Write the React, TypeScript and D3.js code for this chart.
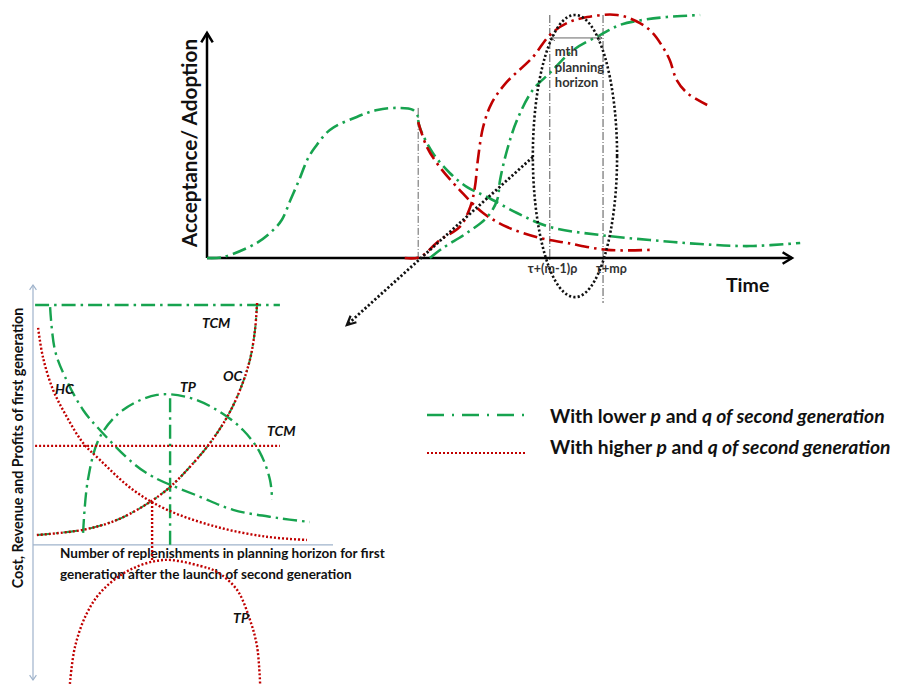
import React from "react";
import * as d3 from "d3";

type P = [number, number];

// ---------- Top chart: adoption over time (time units, adoption units) ----------
const firstGenRise: P[] = [
  [0, 0], [2.7, 0.4], [8.5, 6.7], [11.3, 12.4], [12.8, 17], [14.3, 26], [15.8, 35],
  [17.2, 44], [18.5, 49.3], [21, 56.9], [25.6, 62.7], [29.1, 65.8], [32.5, 66.7],
  [35.2, 65.8], [36.1, 62.7],
];
const firstGenDeclineLow: P[] = [
  [36.1, 61.3], [36.4, 57.8], [38.6, 46.7], [41.5, 37.8], [44.4, 31.6], [47.9, 27.1],
  [53, 20], [58.6, 13.8], [67.2, 10.2], [75.7, 8], [84.3, 6.2], [92.8, 5.3], [101.4, 6.7],
];
const firstGenDeclineHigh: P[] = [
  [36.1, 60.4], [37.6, 49.3], [39.8, 40.4], [43.2, 30.2], [47.2, 20], [51.3, 13.8],
  [56.9, 8.9], [61.5, 6.7], [68.4, 3.6], [75.7, 3.6],
];
const secondGenHigh: P[] = [
  [33.8, 0], [36.4, 0.4], [39.8, 8], [43.2, 13.8], [45, 22.7], [45.8, 31.6], [46.3, 43.6],
  [47.2, 58.2], [48.6, 68.5], [51, 77.5], [55.7, 89.3], [58.6, 99.1], [61.5, 104.4],
  [65, 107.1], [70.1, 108], [74, 104.4], [76.2, 100], [77.9, 93.8], [79.1, 88],
  [80.3, 79.1], [82.1, 73.3], [85.5, 68],
];
const secondGenLow: P[] = [
  [38.1, 0], [40.3, 4.4], [44.4, 11.1], [47.9, 18.2], [49.6, 25.8], [50.1, 34.7],
  [51.3, 48], [53, 61.3], [55.7, 74.7], [58.6, 82.2], [62.6, 92.4], [67.2, 99.1],
  [70.6, 103.6], [74.5, 105.8], [78.6, 107.1], [84.3, 108],
];
const tauTime = 36.1;
const horizonStart = 58.6;
const horizonEnd = 67.7;
const horizonLabels = ["τ+(m-1)ρ", "τ+mρ"];
const horizonNote = ["mth", "planning", "horizon"];
const ellipseCenter: P = [62.9, 45.3];
const ellipseRadii: P = [7.2, 62.7];
const pointerFrom: P = [55.7, 44.9];
const pointerTo: P = [23.9, -29.8];

// ---------- Bottom chart: cost / profit vs number of replenishments ----------
const tcmLow: P[] = [[0.7, 92.3], [82.3, 92.3]];
const tcmHigh: P[] = [[0.7, 38.1], [82.3, 38.1]];
const ocCurve: P[] = [
  [1.3, 3.8], [16.7, 5.8], [28, 9.6], [39, 16.5], [45.7, 22.3], [52.3, 30], [59, 39.2],
  [64.7, 49.2], [69, 59.6], [72.3, 71.2], [74, 82.7], [74.7, 93.1],
];
const hcLow: P[] = [
  [5.7, 91.5], [7.3, 75], [10.7, 64.6], [16.7, 51.9], [22.3, 44.2], [33.3, 31.5],
  [40, 26.2], [55.7, 18.5], [66.7, 13.5], [81.3, 10.4], [92.3, 8.8],
];
const hcHigh: P[] = [
  [1.7, 83.5], [3.3, 72.3], [6.7, 59.6], [11.3, 49.2], [16.7, 39.2], [22.3, 32.7],
  [33.3, 21.2], [44.7, 13.5], [61.3, 6.9], [78, 3.1], [91.3, 1.9],
];
const tpLow: P[] = [
  [16.7, 4.6], [18.3, 25], [22.3, 41.5], [30, 51.9], [41.3, 57.7], [51.3, 56.9],
  [61.3, 51.9], [70, 44.2], [75.7, 35.4], [79, 25], [79.7, 17.3],
];
const tpHigh: P[] = [
  [12.3, -53.5], [14, -39.2], [18, -26.2], [23.3, -17.3], [32.3, -9.6], [43.7, -5.8],
  [55.7, -8.1], [61.3, -10.4], [68, -17.3], [72.3, -28.8], [74.7, -39.2], [75.7, -53.5],
];
const optimumLow: P[] = [[45.7, 0], [45.7, 57.7]];
const optimumHigh: P[] = [[39.7, 16.5], [39.7, -6.5]];
const curveLabels: { text: string; at: P }[] = [
  { text: "TCM", at: [56.3, 83.5] },
  { text: "OC", at: [63.3, 63.1] },
  { text: "HC", at: [7.3, 58.1] },
  { text: "TP", at: [49, 58.8] },
  { text: "TCM", at: [78, 41.9] },
  { text: "TP", at: [66.7, -30] },
];
const xAxisTitle = [
  "Number of replenishments in planning horizon for first",
  "generation after the launch of second generation",
];
const yAxisTitleBottom = "Cost, Revenue and Profits of first generation";
const legendPrefix = ["With lower ", "With higher "];

const GREEN = "#17a34f";
const RED = "#c00000";
const DASHDOT = "14 5 2.5 5";
const DOTTED = "2 2";
const FONT = "Lato, 'Open Sans', sans-serif";

const xT = d3.scaleLinear().domain([0, 100]).range([207, 792]);
const yT = d3.scaleLinear().domain([0, 100]).range([258, 33]);
const xB = d3.scaleLinear().domain([0, 100]).range([33, 333]);
const yB = d3.scaleLinear().domain([-52, 100]).range([680, 285]);

const lineT = d3.line<P>().x((d) => xT(d[0])).y((d) => yT(d[1])).curve(d3.curveCatmullRom.alpha(0.5));
const lineB = d3.line<P>().x((d) => xB(d[0])).y((d) => yB(d[1])).curve(d3.curveCatmullRom.alpha(0.5));

function chevron(tip: P, angle: number, len: number, spread = 0.5): string {
  const a1 = angle + Math.PI - spread;
  const a2 = angle + Math.PI + spread;
  return `M${tip[0] + len * Math.cos(a1)},${tip[1] + len * Math.sin(a1)}L${tip[0]},${tip[1]}L${tip[0] + len * Math.cos(a2)},${tip[1] + len * Math.sin(a2)}`;
}

export default function App() {
  const pFrom: P = [xT(pointerFrom[0]), yT(pointerFrom[1])];
  const pTo: P = [xT(pointerTo[0]), yT(pointerTo[1])];
  const pAngle = Math.atan2(pTo[1] - pFrom[1], pTo[0] - pFrom[0]);
  const hsX = xT(horizonStart);
  const heX = xT(horizonEnd);
  const arrowY = yT(97.8);

  return (
    <svg width={898} height={684} style={{ position: "absolute", left: 0, top: 0, background: "#fff" }} fontFamily={FONT}>
      {/* ---------- Top chart ---------- */}
      <line x1={xT(0)} y1={yT(0)} x2={xT(0)} y2={yT(100)} stroke="#000" strokeWidth={2.5} />
      <path d={chevron([xT(0), yT(100)], -Math.PI / 2, 11, 0.55)} fill="none" stroke="#000" strokeWidth={2.5} />
      <line x1={xT(0)} y1={yT(0)} x2={xT(100)} y2={yT(0)} stroke="#000" strokeWidth={2.5} />
      <path d={chevron([xT(100), yT(0)], 0, 11, 0.55)} fill="none" stroke="#000" strokeWidth={2.5} />
      <text transform={`translate(197,143) rotate(-90)`} textAnchor="middle" fontSize={20.8} fontWeight="bold" fill="#111">
        Acceptance/ Adoption
      </text>
      <text x={726} y={292} fontSize={19.5} fontWeight="bold" fill="#111">Time</text>

      {/* reference verticals */}
      <line x1={xT(tauTime)} y1={yT(66.7)} x2={xT(tauTime)} y2={yT(0)} stroke="#666" strokeWidth={1} strokeDasharray="7 2 1 2" />
      <line x1={hsX} y1={yT(108)} x2={hsX} y2={yT(-1)} stroke="#555" strokeWidth={1} strokeDasharray="8 2 1 2" />
      <line x1={heX} y1={yT(108)} x2={heX} y2={yT(-20)} stroke="#555" strokeWidth={1} strokeDasharray="8 2 1 2" />

      {/* curves */}
      <path d={lineT(firstGenRise) ?? ""} fill="none" stroke={GREEN} strokeWidth={2.6} strokeDasharray={DASHDOT} />
      <path d={lineT(firstGenDeclineLow) ?? ""} fill="none" stroke={GREEN} strokeWidth={2.6} strokeDasharray={DASHDOT} />
      <path d={lineT(firstGenDeclineHigh) ?? ""} fill="none" stroke={RED} strokeWidth={2.6} strokeDasharray={DASHDOT} />
      <path d={lineT(secondGenLow) ?? ""} fill="none" stroke={GREEN} strokeWidth={2.6} strokeDasharray={DASHDOT} />
      <path d={lineT(secondGenHigh) ?? ""} fill="none" stroke={RED} strokeWidth={2.6} strokeDasharray={DASHDOT} />

      {/* planning horizon arrow */}
      <line x1={hsX + 1} y1={arrowY} x2={heX - 1} y2={arrowY} stroke="#666" strokeWidth={1} />
      <path d={chevron([hsX + 1, arrowY], Math.PI, 5, 0.6)} fill="none" stroke="#666" strokeWidth={1} />
      <path d={chevron([heX - 1, arrowY], 0, 5, 0.6)} fill="none" stroke="#666" strokeWidth={1} />
      {horizonNote.map((t, i) => (
        <text key={t} x={hsX + 5} y={56 + i * 15.5} fontSize={13} fontWeight="bold" fill="#333">{t}</text>
      ))}
      <text x={hsX - 22} y={273} fontSize={12.5} fontWeight="bold" fill="#333">{horizonLabels[0]}</text>
      <text x={heX - 7} y={273} fontSize={12.5} fontWeight="bold" fill="#333">{horizonLabels[1]}</text>

      {/* dotted ellipse and pointer */}
      <ellipse
        cx={xT(ellipseCenter[0])}
        cy={yT(ellipseCenter[1])}
        rx={xT(ellipseCenter[0] + ellipseRadii[0]) - xT(ellipseCenter[0])}
        ry={yT(ellipseCenter[1] - ellipseRadii[1]) - yT(ellipseCenter[1])}
        fill="none" stroke="#111" strokeWidth={2.6} strokeDasharray="2.2 2.2"
      />
      <line x1={pFrom[0]} y1={pFrom[1]} x2={pTo[0]} y2={pTo[1]} stroke="#111" strokeWidth={2.8} strokeDasharray="2.2 2.2" />
      <path d={chevron(pTo, pAngle, 10, 0.45)} fill="none" stroke="#111" strokeWidth={2.2} />

      {/* ---------- Bottom chart ---------- */}
      <line x1={xB(0)} y1={yB(100)} x2={xB(0)} y2={yB(-52)} stroke="#9fb3cb" strokeWidth={1.2} />
      <path d={chevron([xB(0), yB(100)], -Math.PI / 2, 6, 0.6)} fill="none" stroke="#9fb3cb" strokeWidth={1.2} />
      <path d={chevron([xB(0), yB(-52)], Math.PI / 2, 6, 0.6)} fill="none" stroke="#9fb3cb" strokeWidth={1.2} />
      <line x1={xB(0)} y1={yB(0)} x2={xB(100)} y2={yB(0)} stroke="#9fb3cb" strokeWidth={1.2} />
      <text transform={`translate(23,448) rotate(-90)`} textAnchor="middle" fontSize={14.3} fontWeight="bold" fill="#111">
        {yAxisTitleBottom}
      </text>
      {xAxisTitle.map((t, i) => (
        <text key={i} x={60} y={558 + i * 21} fontSize={13.5} fontWeight="bold" fill="#111">{t}</text>
      ))}

      <path d={lineB(tcmLow) ?? ""} fill="none" stroke={GREEN} strokeWidth={2.4} strokeDasharray={DASHDOT} />
      <path d={lineB(hcLow) ?? ""} fill="none" stroke={GREEN} strokeWidth={2.4} strokeDasharray={DASHDOT} />
      <path d={lineB(tpLow) ?? ""} fill="none" stroke={GREEN} strokeWidth={2.4} strokeDasharray={DASHDOT} />
      <path d={lineB(optimumLow) ?? ""} fill="none" stroke={GREEN} strokeWidth={2.4} strokeDasharray={DASHDOT} />
      <path d={lineB(ocCurve) ?? ""} fill="none" stroke={GREEN} strokeWidth={2} strokeDasharray={DASHDOT} />
      <path d={lineB(ocCurve) ?? ""} fill="none" stroke={RED} strokeWidth={2.4} strokeDasharray={DOTTED} />
      <path d={lineB(tcmHigh) ?? ""} fill="none" stroke={RED} strokeWidth={2.4} strokeDasharray={DOTTED} />
      <path d={lineB(hcHigh) ?? ""} fill="none" stroke={RED} strokeWidth={2.4} strokeDasharray={DOTTED} />
      <path d={lineB(tpHigh) ?? ""} fill="none" stroke={RED} strokeWidth={2.4} strokeDasharray={DOTTED} />
      <path d={lineB(optimumHigh) ?? ""} fill="none" stroke={RED} strokeWidth={2.4} strokeDasharray={DOTTED} />

      {curveLabels.map((l, i) => (
        <text key={i} x={xB(l.at[0])} y={yB(l.at[1])} fontSize={14} fontWeight="bold" fontStyle="italic" fill="#111">{l.text}</text>
      ))}

      {/* legend */}
      <line x1={427} y1={415} x2={527} y2={415} stroke={GREEN} strokeWidth={2.6} strokeDasharray="17 8 2 8" />
      <line x1={427} y1={453} x2={527} y2={453} stroke={RED} strokeWidth={2.2} strokeDasharray={DOTTED} />
      {legendPrefix.map((pre, i) => (
        <text key={i} x={550} y={423 + i * 31} fontSize={19.3} fontWeight="bold" fill="#111">
          {pre}
          <tspan fontStyle="italic">p</tspan>
          {" and "}
          <tspan fontStyle="italic">q of second generation</tspan>
        </text>
      ))}
    </svg>
  );
}
